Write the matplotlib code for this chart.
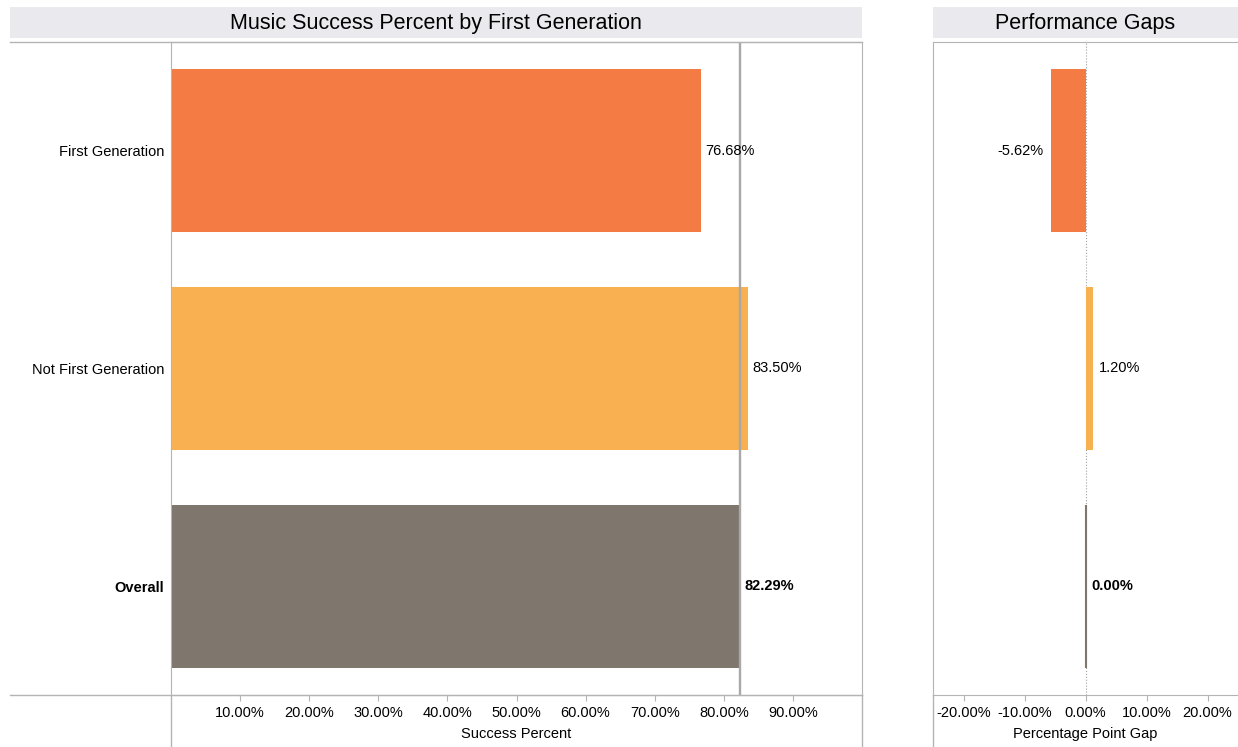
import matplotlib.pyplot as plt
from matplotlib.lines import Line2D
from matplotlib.patches import Rectangle

plt.rcParams['font.family'] = ['Liberation Sans', 'DejaVu Sans']

# data
groups = ['First Generation', 'Not First Generation', 'Overall']
success = [76.68, 83.50, 82.29]
gaps = [-5.62, 1.20, 0.00]
colors = ['#F47B44', '#F9B050', '#7F766D']
left_ticks = [10, 20, 30, 40, 50, 60, 70, 80, 90]
right_ticks = [-20, -10, 0, 10, 20]

W, H = 1238, 747
fig = plt.figure(figsize=(W / 100, H / 100), dpi=100)
grey = '#B4B4B4'


# helpers working in pixel coordinates (top-left origin)
def ax_box(x0, y0, x1, y1):
    return [x0 / W, 1 - y1 / H, (x1 - x0) / W, (y1 - y0) / H]


def hline(x0, x1, y, **kw):
    fig.add_artist(Line2D([x0 / W, x1 / W], [1 - y / H, 1 - y / H],
                          transform=fig.transFigure, color=grey, lw=1, **kw))


def vline(x, y0, y1, **kw):
    fig.add_artist(Line2D([x / W, x / W], [1 - y0 / H, 1 - y1 / H],
                          transform=fig.transFigure, color=grey, lw=1, **kw))


def title_bar(x0, x1, text):
    fig.add_artist(Rectangle((x0 / W, 1 - 38 / H), (x1 - x0) / W, 31 / H,
                             transform=fig.transFigure, color='#EAEAEE', lw=0))
    fig.text((x0 + x1) / 2 / W, 1 - 23 / H, text, ha='center', va='center', fontsize=15.5)


top, bottom = 42, 695
y = list(range(len(groups)))

# ---- left panel: success percent ----
ax1 = fig.add_axes(ax_box(171, top, 862, bottom))
ax1.barh(y, success, height=0.75, color=colors)
ax1.set_xlim(0, 100)
ax1.set_ylim(2.5, -0.5)
ax1.axvline(success[2], color='#A8A8A8', lw=1.7)
for i, v in enumerate(success):
    ax1.annotate('%.2f%%' % v, (v, i), xytext=(3.5, 0), textcoords='offset points',
                 va='center', ha='left', fontsize=10.5,
                 fontweight='bold' if groups[i] == 'Overall' else 'normal')
ax1.set_yticks(y)
ax1.set_yticklabels(groups, fontsize=10.5)
for lab in ax1.get_yticklabels():
    if lab.get_text() == 'Overall':
        lab.set_fontweight('bold')
ax1.tick_params(axis='y', length=0, pad=5)
ax1.set_xticks(left_ticks)
ax1.set_xticklabels(['%.2f%%' % t for t in left_ticks], fontsize=10.5)
ax1.tick_params(axis='x', length=4, color=grey, pad=4)
ax1.set_xlabel('Success Percent', fontsize=10.5, labelpad=5)
for s in ax1.spines.values():
    s.set_color(grey)

# ---- right panel: gaps ----
ax2 = fig.add_axes(ax_box(933, top, 1238, bottom))
ax2.barh(y, gaps, height=0.75, color=colors, edgecolor=colors, linewidth=[0, 0, 1.5])
ax2.set_xlim(-25, 25)
ax2.set_ylim(2.5, -0.5)
ax2.axvline(0, color='#A0A0A0', lw=0.8, ls=':', zorder=0)
for i, v in enumerate(gaps):
    off, ha = ((-5.5, 'right') if v < 0 else (4.5, 'left'))
    ax2.annotate('%.2f%%' % v, (v, i), xytext=(off, 0), textcoords='offset points',
                 va='center', ha=ha, fontsize=10.5,
                 fontweight='bold' if groups[i] == 'Overall' else 'normal')
ax2.set_yticks([])
ax2.set_xticks(right_ticks)
ax2.set_xticklabels(['%.2f%%' % t for t in right_ticks], fontsize=10.5)
ax2.tick_params(axis='x', length=4, color=grey, pad=4)
ax2.set_xlabel('Percentage Point Gap', fontsize=10.5, labelpad=5)
for s in ax2.spines.values():
    s.set_color(grey)
ax2.spines['right'].set_visible(False)

# panel frame lines that run past the plot areas
hline(10, 862, top)
hline(10, 862, bottom)
vline(171, bottom, H)
vline(862, bottom, H)
vline(933, bottom, H)

title_bar(10, 862, 'Music Success Percent by First Generation')
title_bar(933, 1238, 'Performance Gaps')

fig.savefig('out.png', dpi=100)
